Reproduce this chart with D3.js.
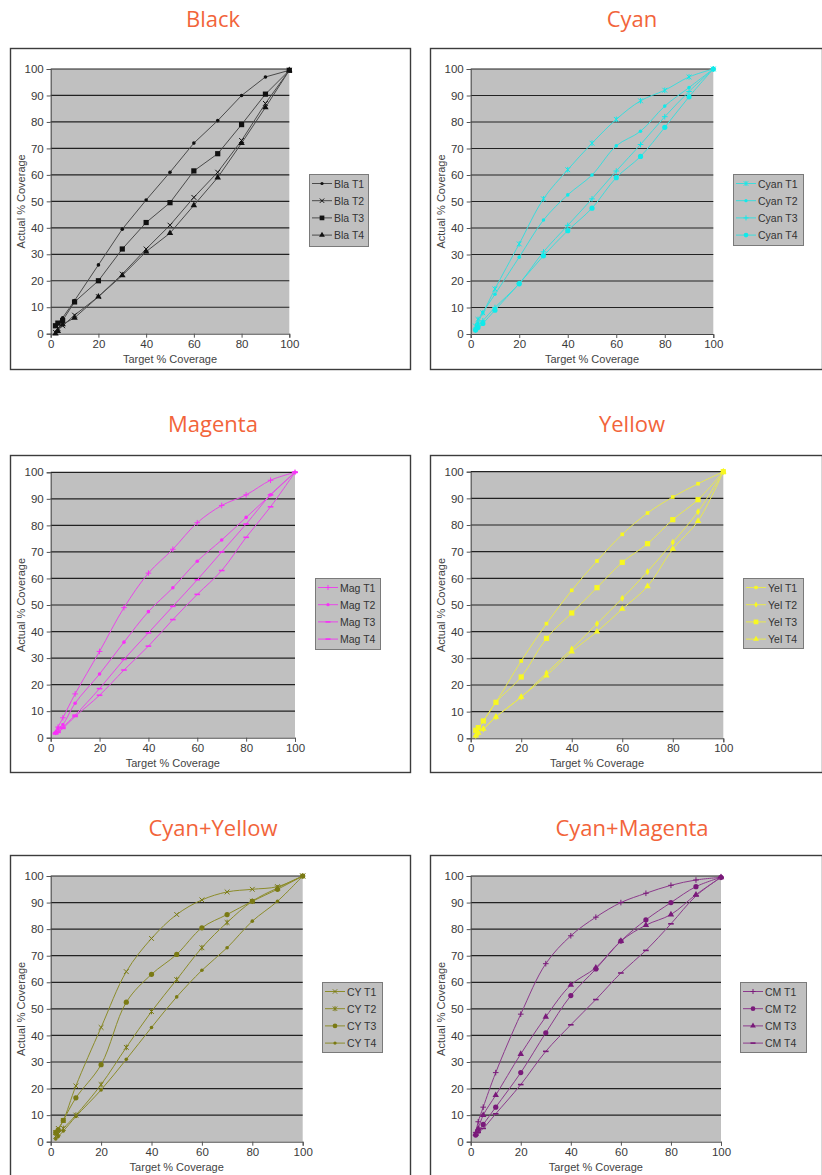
<!DOCTYPE html>
<html><head><meta charset="utf-8">
<script src="https://cdn.jsdelivr.net/npm/d3@7"></script>
<style>
html,body{margin:0;padding:0;background:#fff;}
svg{display:block;}
</style></head>
<body>
<svg id="chart" width="822" height="1175"></svg>
<script>
// ---------- data ----------
const targets = [2,3,5,10,20,30,40,50,60,70,80,90,100];
const xTicks = [0,20,40,60,80,100];
const yTicks = [0,10,20,30,40,50,60,70,80,90,100];
const panelTitles = ["Black","Cyan","Magenta","Yellow","Cyan+Yellow","Cyan+Magenta"];
const seriesSuffix = ["T1","T2","T3","T4"];
const seriesPrefix = ["Bla","Cyan","Mag","Yel","CY","CM"];
const xTitle = "Target % Coverage";
const yTitle = "Actual % Coverage";

const blaT1 = [3,4,6,12.5,26,39.5,50.5,61,72,80.5,90,97,99.5];
const blaT2 = [0.5,2,3,7,14,22.5,32,41,51.5,61,73,87,99.5];
const blaT3 = [3,4,5,12,20,32,42,49.5,61.5,68,79,90.5,99.5];
const blaT4 = [0,1,3.5,6,14,22,31,38,48.5,59,72,85.5,99.5];

const cyaT1 = [3,5.5,8,17,34,51,62,72,81,88,92,97,100];
const cyaT2 = [2,4,8,15,29,43,52.5,60,71,76.5,86,93,100];
const cyaT3 = [1.5,3,5,10,19,31,41,51,61.5,71.5,82,91.5,100];
const cyaT4 = [1.5,2.5,4,9,19,29.5,39,47.5,59,67,78,89.5,100];

const magT1 = [2,4,7.5,16.5,32.5,49,62,71,81,87.5,91.5,97,100];
const magT2 = [2,3.5,5,13,24,36,47.5,56.5,66.5,74.5,83,91.5,100];
const magT3 = [1.5,2.5,4,8.5,18.5,29.5,39.5,49.5,59.5,70,80.5,91.5,100];
const magT4 = [1.5,2,3.5,8,16,25.5,34.5,44.5,54,63,75.5,87,100];

const yelT1 = [3,4,6.5,13.5,29,43,55.5,66.5,76.5,84.5,90.5,95.5,100];
const yelT2 = [1,2,3.5,8,15.5,24.5,33.5,43,52.5,62.5,73.5,85,100];
const yelT3 = [3,4,6.5,13.5,23,37.5,47,56.5,66,73,82,89.5,100];
const yelT4 = [1,2,3.5,8,15.5,23.5,32.5,40,48.5,57,71,81.5,100];

const cyT1 = [3.5,5,8,21,43,64,76.5,85.5,91,94,95,96,100];
const cyT2 = [2,3,5,10,21.5,35.5,49,61,73,82.5,90.5,95.5,100];
const cyT3 = [3.5,4.5,8,16.5,29,52.5,63,70.5,80.5,85.5,90.5,95,100];
const cyT4 = [1,2,4,9.5,19.5,31,43,54.5,64.5,73,83,90.5,100];

const cmT1 = [3.5,7.5,13,26,48,67,77.5,84.5,90,93.5,96.5,98.5,99.5];
const cmT2 = [2.5,4,6.5,13,26,41,55,65,75.5,83.5,90,96,99.5];
const cmT3 = [3,5,10,17.5,33,47,59,65.5,75.5,81.5,85.5,93,99.5];
const cmT4 = [2.5,3.5,5,10.5,21.5,34,44,53.5,63.5,72,82,92.5,99.5];

const panelData = [
  [blaT1,blaT2,blaT3,blaT4],
  [cyaT1,cyaT2,cyaT3,cyaT4],
  [magT1,magT2,magT3,magT4],
  [yelT1,yelT2,yelT3,yelT4],
  [cyT1,cyT2,cyT3,cyT4],
  [cmT1,cmT2,cmT3,cmT4]
];

// ---------- styling / layout ----------
const lineColors   = ["#4a4a4a","#3cdcdc","#e848e8","#e8e850","#8c8c2a","#8c3a8c"];
const markerColors = ["#111111","#10eaea","#f830f8","#f8f820","#7a7a14","#7a1a7a"];
const markerTypes = [
  ["dot","times","square","triangle"],
  ["asterisk","dot","plus","circle"],
  ["plus","dot","dash","dash"],
  ["smallsquare","diamond","square","triangle"],
  ["times","asterisk","circle","dot"],
  ["plus","circle","triangle","dash"]
];
const smooth = [false,true,true,true,true,true];

const layout = [
  {box:[10,48,401,322], title:[213,27], plot:[50.7,289.3,69,333.7], legend:[309,174,59,72]},
  {box:[430,48,393,322], title:[632,27], plot:[470.7,713.3,69,334], legend:[733,174,70,71]},
  {box:[10,455,401,318], title:[213,432], plot:[50.7,295,472.3,737.7], legend:[315,578,65,71]},
  {box:[430,455,393,318], title:[632,432], plot:[470.7,723.3,471.7,738.3], legend:[743,578,60,70]},
  {box:[10,855,401,330], title:[213,836], plot:[50.7,302.7,876,1141.7], legend:[322,982,60,70]},
  {box:[430,855,393,330], title:[632,836], plot:[470.7,721,876,1141.7], legend:[740,982,66,70]}
];

const svg = d3.select("#chart");
const sansFont = "'Liberation Sans', Arial, sans-serif";

function marker(g, type, color, x, y, scale){
  scale = scale || 1;
  const s = g.append("g").attr("transform",`translate(${x},${y})`);
  const sw = 1;
  switch(type){
    case "dot": s.append("circle").attr("r",1.8*scale).attr("fill",color); break;
    case "circle": s.append("circle").attr("r",2.6*scale).attr("fill",color); break;
    case "square": s.append("rect").attr("x",-2.6*scale).attr("y",-2.6*scale).attr("width",5.2*scale).attr("height",5.2*scale).attr("fill",color); break;
    case "smallsquare": s.append("rect").attr("x",-1.8*scale).attr("y",-1.8*scale).attr("width",3.6*scale).attr("height",3.6*scale).attr("fill",color); break;
    case "diamond": s.append("path").attr("d",d3.symbol().type(d3.symbolDiamond).size(14*scale*scale)()).attr("fill",color); break;
    case "triangle": s.append("path").attr("d",d3.symbol().type(d3.symbolTriangle).size(18*scale*scale)()).attr("fill",color); break;
    case "plus": s.append("path").attr("d",`M${-2.8*scale},0H${2.8*scale}M0,${-2.8*scale}V${2.8*scale}`).attr("stroke",color).attr("stroke-width",sw); break;
    case "times": s.append("path").attr("d",`M${-2.4*scale},${-2.4*scale}L${2.4*scale},${2.4*scale}M${-2.4*scale},${2.4*scale}L${2.4*scale},${-2.4*scale}`).attr("stroke",color).attr("stroke-width",sw); break;
    case "asterisk": s.append("path").attr("d",`M${-2.4*scale},${-2.4*scale}L${2.4*scale},${2.4*scale}M${-2.4*scale},${2.4*scale}L${2.4*scale},${-2.4*scale}M0,${-2.8*scale}V${2.8*scale}`).attr("stroke",color).attr("stroke-width",sw); break;
    case "dash": s.append("path").attr("d",`M${-2.8*scale},0H${2.8*scale}`).attr("stroke",color).attr("stroke-width",1.6); break;
  }
}

panelTitles.forEach((title, pi) => {
  const L = layout[pi];
  const g = svg.append("g");

  // title
  g.append("text").attr("x",L.title[0]).attr("y",L.title[1])
    .attr("text-anchor","middle").attr("font-family","'Open Sans', sans-serif")
    .attr("font-size",22).attr("fill","#F2643A").text(title);

  // outer box
  g.append("rect").attr("x",L.box[0]+0.5).attr("y",L.box[1]+0.5)
    .attr("width",L.box[2]-1).attr("height",L.box[3]-1)
    .attr("fill","#fff").attr("stroke","#3c3c3c").attr("stroke-width",1.4);

  const [px0,px1,py0,py1] = L.plot;
  const x = d3.scaleLinear().domain([0,100]).range([px0,px1]);
  const y = d3.scaleLinear().domain([0,100]).range([py1,py0]);

  // plot area
  g.append("rect").attr("x",px0).attr("y",py0).attr("width",px1-px0).attr("height",py1-py0)
    .attr("fill","#C0C0C0");

  // gridlines
  g.append("g").selectAll("line").data(yTicks.filter(v=>v>0)).join("line")
    .attr("x1",px0).attr("x2",px1).attr("y1",d=>y(d)).attr("y2",d=>y(d))
    .attr("stroke","#222").attr("stroke-width",1.2);

  // axes
  const yAxis = g.append("g").attr("transform",`translate(${px0},0)`)
    .call(d3.axisLeft(y).tickValues(yTicks).tickSize(4).tickPadding(3));
  const xAxis = g.append("g").attr("transform",`translate(0,${py1})`)
    .call(d3.axisBottom(x).tickValues(xTicks).tickSize(4).tickPadding(2));
  [xAxis,yAxis].forEach(a=>{
    a.select(".domain").attr("stroke","#444").attr("stroke-width",1);
    a.selectAll(".tick line").attr("stroke","#555");
    a.selectAll("text").attr("font-family",sansFont).attr("font-size",11.5).attr("fill","#3a3a3a");
  });

  // axis titles
  g.append("text").attr("x",(px0+px1)/2).attr("y",py1+29).attr("text-anchor","middle")
    .attr("font-family",sansFont).attr("font-size",11).attr("fill","#444").text(xTitle);
  g.append("text").attr("transform",`translate(${L.box[0]+12},${(py0+py1)/2}) rotate(-90)`)
    .attr("text-anchor","middle").attr("dominant-baseline","middle")
    .attr("font-family",sansFont).attr("font-size",11).attr("fill","#444").text(yTitle);

  // series
  const lineGen = d3.line().x(d=>x(d[0])).y(d=>y(d[1]))
    .curve(smooth[pi] ? d3.curveCatmullRom.alpha(0.5) : d3.curveLinear);
  panelData[pi].forEach((vals, si) => {
    const pts = targets.map((t,i)=>[t, vals[i]]);
    g.append("path").datum(pts).attr("d",lineGen).attr("fill","none")
      .attr("stroke",lineColors[pi]).attr("stroke-width",1);
    const mg = g.append("g");
    pts.forEach(p => marker(mg, markerTypes[pi][si], markerColors[pi], x(p[0]), y(p[1])));
  });

  // legend
  const [lx,ly,lw,lh] = L.legend;
  g.append("rect").attr("x",lx+0.5).attr("y",ly+0.5).attr("width",lw).attr("height",lh)
    .attr("fill","#C0C0C0").attr("stroke","#7a7a7a").attr("stroke-width",1);
  seriesSuffix.forEach((sfx, si) => {
    const ry = ly + 9.5 + si*17.2;
    g.append("line").attr("x1",lx+3).attr("x2",lx+23).attr("y1",ry).attr("y2",ry)
      .attr("stroke",lineColors[pi]).attr("stroke-width",1);
    marker(g, markerTypes[pi][si], markerColors[pi], lx+13, ry, 0.9);
    g.append("text").attr("x",lx+25).attr("y",ry).attr("dominant-baseline","central")
      .attr("font-family",sansFont).attr("font-size",10.5).attr("fill","#333")
      .text(seriesPrefix[pi] + " " + sfx);
  });
});
</script>
</body></html>
